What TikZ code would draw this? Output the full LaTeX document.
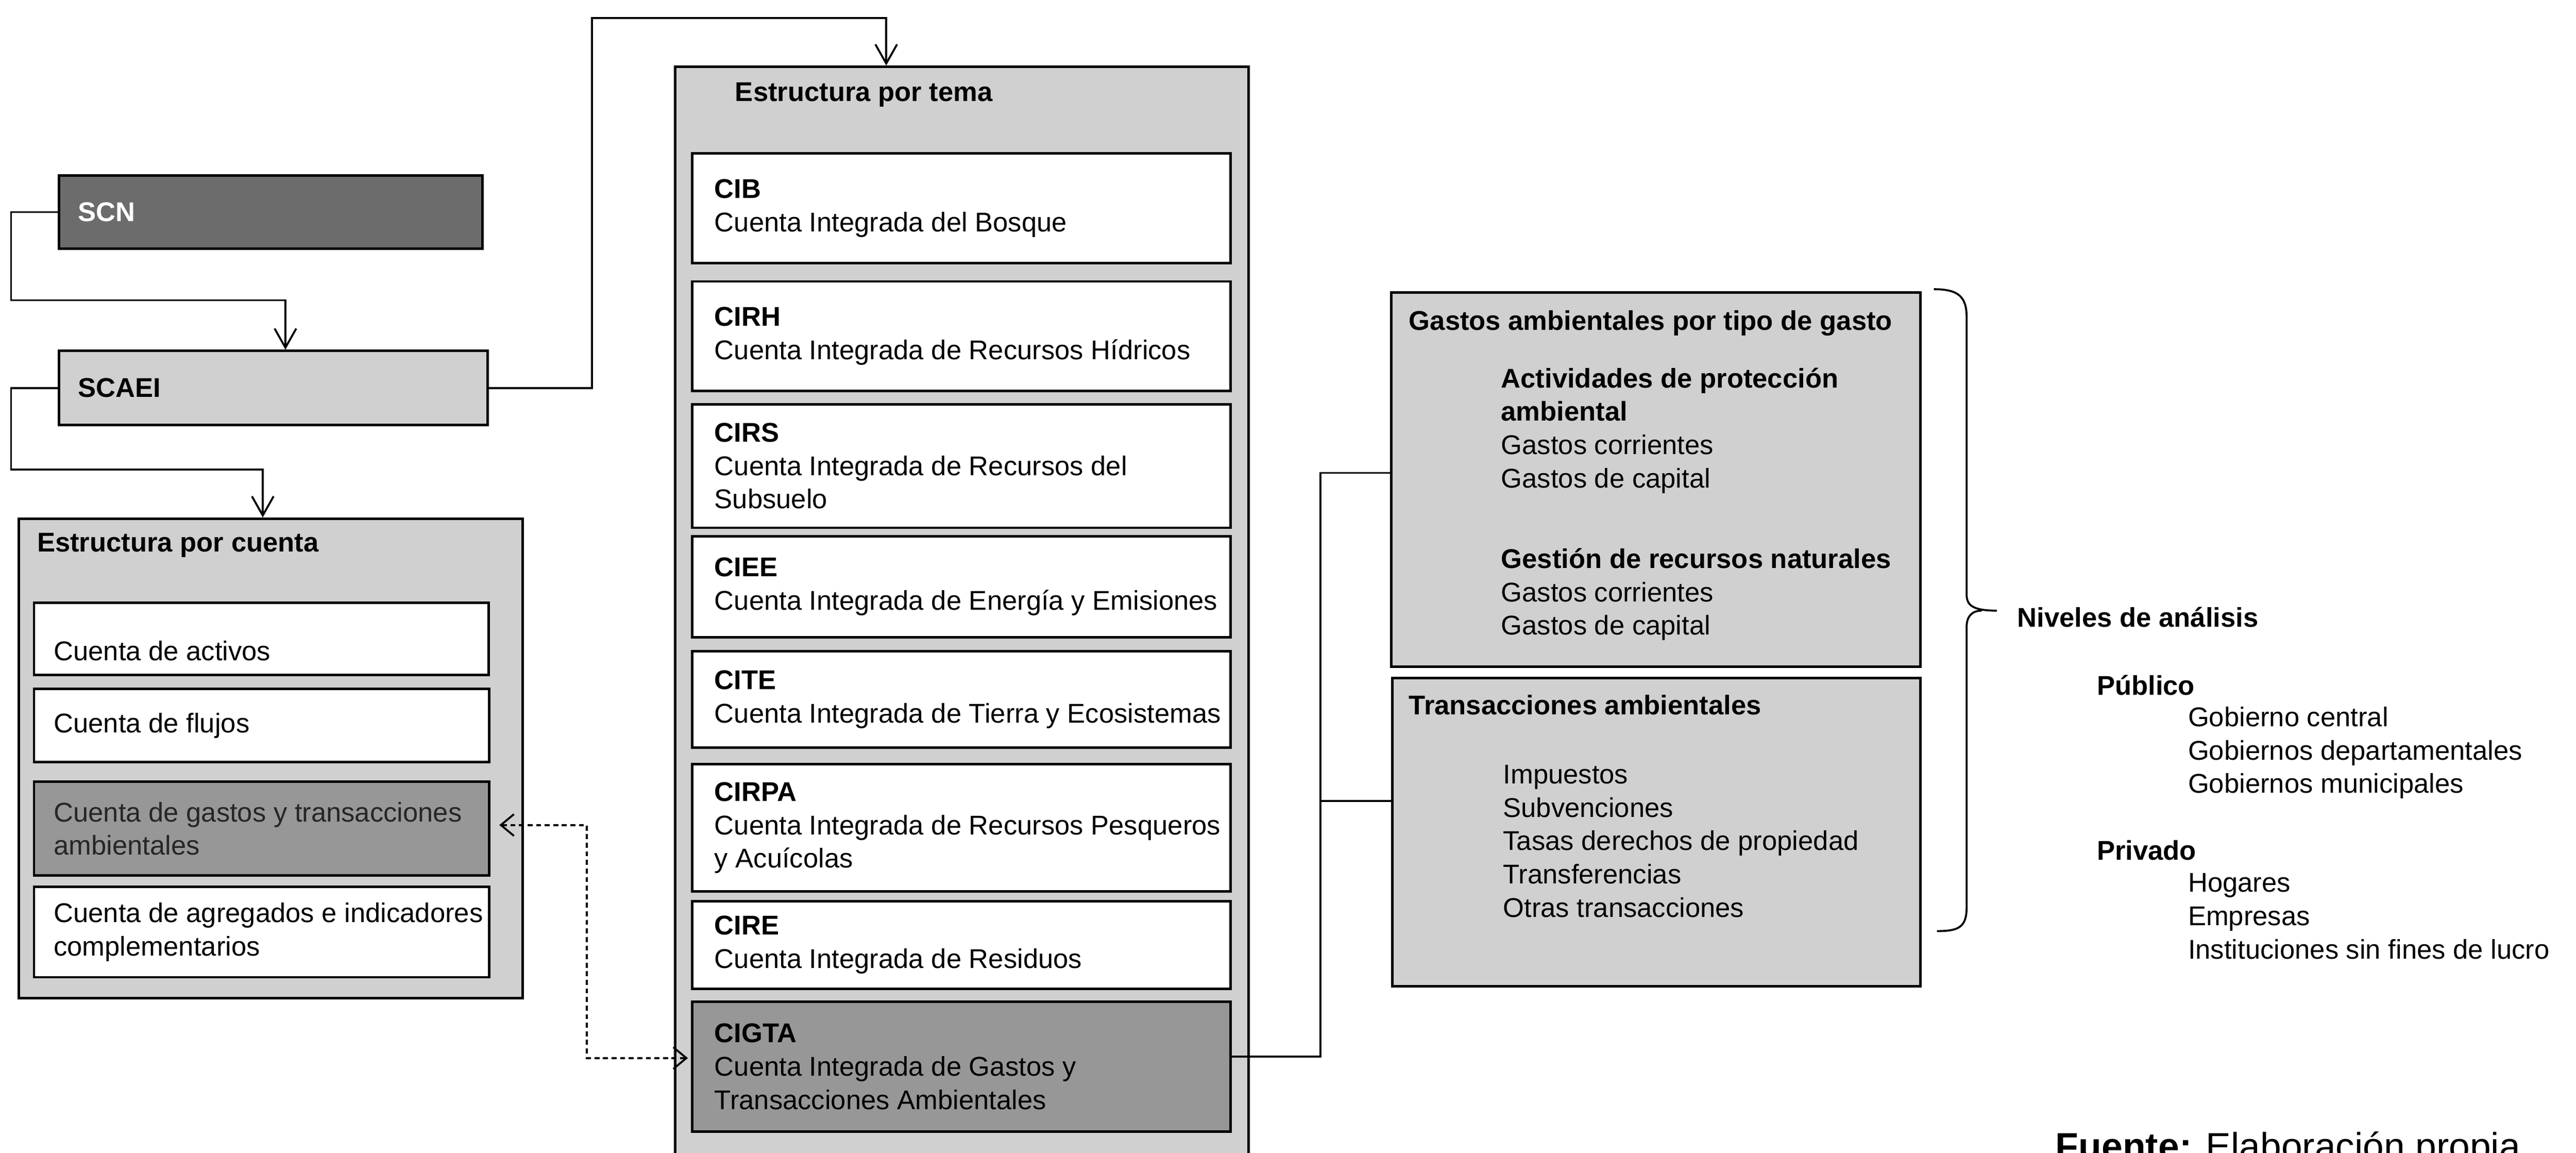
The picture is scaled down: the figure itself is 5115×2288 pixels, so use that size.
\documentclass[tikz,border=0pt]{standalone}
\usepackage{fontspec}
\setmainfont{Liberation Sans}
\usepackage{tikz}
\usetikzlibrary{arrows.meta,positioning}
\definecolor{darkbox}{HTML}{6C6C6C}
\definecolor{midbox}{HTML}{979797}
\definecolor{lightbox}{HTML}{D0D0D0}
\tikzset{
>={Straight Barb[length=3.8mm,width=4.3mm]}, % open v heads
box/.style={draw, line width=1.4pt, anchor=north west, inner sep=0pt}, % every framed box
txt/.style={align=left, inner sep=0pt}, % text set inside the boxes
conn/.style={line width=1.1pt}, % solid connectors
link/.style={line width=1.1pt, dash pattern=on 1mm off 0.7mm, {Straight Barb[length=2.6mm,width=4.3mm]}-{Straight Barb[length=2.6mm,width=4.3mm]}},
}
\begin{document}
\begin{tikzpicture}[x=0.01cm, y=-0.01cm, font=\fontsize{15.3pt}{18.8pt}\selectfont]
		\fill[white] (0,0) rectangle (5115,2288);
		\useasboundingbox (0,0) rectangle (5115,2288);
		% left column
		\node[box, fill=darkbox, minimum width=8.4cm, minimum height=1.45cm] (scn) at (115,346) {};
		\node[txt, right=3.9mm of scn.west, text=white] (scnt) {\textbf{SCN}};
		\node[box, fill=lightbox, minimum width=8.5cm, minimum height=1.47cm] (scaei) at (115,694) {};
		\node[txt, right=3.9mm of scaei.west] (scaeit) {\textbf{SCAEI}};
		\node[box, fill=lightbox, minimum width=10cm, minimum height=9.51cm] (cuenta) at (35,1027) {};
		\node[txt, anchor=west] (cuentat) at ([xshift=3.8mm,yshift=-5.5mm]cuenta.north west) {\textbf{Estructura por cuenta}};
		\node[box, fill=white, minimum width=9.02cm, minimum height=1.43cm] (activos) at (65,1194) {};
		\node[txt, right=4.1mm of activos.west, yshift=-2.4mm] (activost) {Cuenta de activos};
		\node[box, fill=white, minimum width=9.03cm, minimum height=1.45cm] (flujos) at (65,1365) {};
		\node[txt, right=4.1mm of flujos.west] (flujost) {Cuenta de flujos};
		\node[box, fill=midbox, minimum width=9.03cm, minimum height=1.86cm] (gastoscta) at (65,1549) {};
		\node[txt, right=4.1mm of gastoscta.west, text=black!85] (gastosctat) {Cuenta de gastos y transacciones\\ambientales};
		\node[box, fill=white, minimum width=9.03cm, minimum height=1.79cm] (agregados) at (65,1758) {};
		\node[txt, right=4.1mm of agregados.west] (agregadost) {Cuenta de agregados e indicadores\\complementarios};
		% middle column
		\node[box, fill=lightbox, minimum width=11.38cm, minimum height=22cm] (tema) at (1338,130) {};
		\node[txt, anchor=west] (temat) at ([xshift=12.1mm,yshift=-5.8mm]tema.north west) {\textbf{Estructura por tema}};
		\node[box, fill=white, minimum width=10.68cm, minimum height=2.18cm] (cib) at (1372,302) {};
		\node[txt, right=4.6mm of cib.west] (cibt) {\textbf{CIB}\\Cuenta Integrada del Bosque};
		\node[box, fill=white, minimum width=10.68cm, minimum height=2.17cm] (cirh) at (1372,556) {};
		\node[txt, right=4.6mm of cirh.west] (cirht) {\textbf{CIRH}\\Cuenta Integrada de Recursos Hídricos};
		\node[box, fill=white, minimum width=10.68cm, minimum height=2.45cm] (cirs) at (1372,800) {};
		\node[txt, right=4.6mm of cirs.west] (cirst) {\textbf{CIRS}\\Cuenta Integrada de Recursos del\\Subsuelo};
		\node[box, fill=white, minimum width=10.68cm, minimum height=2cm] (ciee) at (1372,1062) {};
		\node[txt, right=4.6mm of ciee.west] (cieet) {\textbf{CIEE}\\Cuenta Integrada de Energía y Emisiones};
		\node[box, fill=white, minimum width=10.68cm, minimum height=1.91cm] (cite) at (1372,1290) {};
		\node[txt, right=4.6mm of cite.west] (citet) {\textbf{CITE}\\Cuenta Integrada de Tierra y Ecosistemas};
		\node[box, fill=white, minimum width=10.68cm, minimum height=2.53cm] (cirpa) at (1372,1514) {};
		\node[txt, right=4.6mm of cirpa.west] (cirpat) {\textbf{CIRPA}\\Cuenta Integrada de Recursos Pesqueros\\y Acuícolas};
		\node[box, fill=white, minimum width=10.68cm, minimum height=1.74cm] (cire) at (1372,1786) {};
		\node[txt, right=4.6mm of cire.west] (ciret) {\textbf{CIRE}\\Cuenta Integrada de Residuos};
		\node[box, fill=midbox, minimum width=10.68cm, minimum height=2.57cm] (cigta) at (1372,1986) {};
		\node[txt, right=4.6mm of cigta.west] (cigtat) {\textbf{CIGTA}\\Cuenta Integrada de Gastos y\\Transacciones Ambientales};
		% right column (base = last line)
		\node[box, fill=lightbox, minimum width=10.5cm, minimum height=7.42cm] (gastos) at (2760,578) {};
		\node[txt, anchor=base west] (gastost) at (2797,655) {\textbf{Gastos ambientales por tipo de gasto}};
		\node[txt, anchor=base west] (proteccion) at (2980,968) {\textbf{Actividades de protección}\\\textbf{ambiental}\\Gastos corrientes\\Gastos de capital};
		\node[txt, anchor=base west] (naturales) at (2980,1260) {\textbf{Gestión de recursos naturales}\\Gastos corrientes\\Gastos de capital};
		\node[box, fill=lightbox, minimum width=10.48cm, minimum height=6.12cm] (trans) at (2762,1343) {};
		\node[txt, anchor=base west] (transt) at (2797,1418) {\textbf{Transacciones ambientales}};
		\node[txt, anchor=base west] (translist) at (2984,1820) {Impuestos\\Subvenciones\\Tasas derechos de propiedad\\Transferencias\\Otras transacciones};
		\node[txt, anchor=base west] (niveles) at (4005,1244) {\textbf{Niveles de análisis}};
		\node[txt, anchor=base west] (publico) at (4163,1379) {\textbf{Público}};
		\node[txt, anchor=base west] (publist) at (4344,1574) {Gobierno central\\Gobiernos departamentales\\Gobiernos municipales};
		\node[txt, anchor=base west] (privado) at (4163,1707) {\textbf{Privado}};
		\node[txt, anchor=base west] (privlist) at (4344,1903) {Hogares\\Empresas\\Instituciones sin fines de lucro};
		\node[txt, anchor=base west, font=\fontsize{21.3pt}{25pt}\selectfont] (fuente) at (4081,2301) {\textbf{Fuente:} Elaboración propia.};
		% connectors
		\draw[conn, ->] (scn.west) -- ++(-93,0) -- ++(0,175) -| ([xshift=2.4mm]scaei.north);
		\draw[conn, ->] (scaei.west) -- ++(-93,0) -- ++(0,162) -| ([xshift=-1.6mm]cuenta.north);
		\draw[conn, ->] (scaei.east) -- ++(205,0) -- ++(0,-734) -| ([xshift=-15mm]tema.north);
		\draw[link] ([xshift=1.8mm,yshift=0.7mm]gastoscta.east) -- ++(174,0) |- ([xshift=-0.6mm,yshift=1.7mm]cigta.west);
		\draw[conn] ([yshift=2mm]cigta.east) -- ++(176,0) coordinate (jn) |- ([yshift=1.3mm]gastos.west);
		\draw[conn] ([yshift=6.2mm]trans.west) -| (jn);
		% brace
		\draw[conn] (3840,574) .. controls (3890,574) and (3905,590) .. (3905,630) -- (3905,1180)
			.. controls (3905,1200) and (3915,1212) .. (3965,1212);
		\draw[conn] (3935,1212) .. controls (3915,1212) and (3905,1224) .. (3905,1244) -- (3905,1800)
			.. controls (3905,1840) and (3890,1848) .. (3846,1848);
	\end{tikzpicture}
\end{document}
